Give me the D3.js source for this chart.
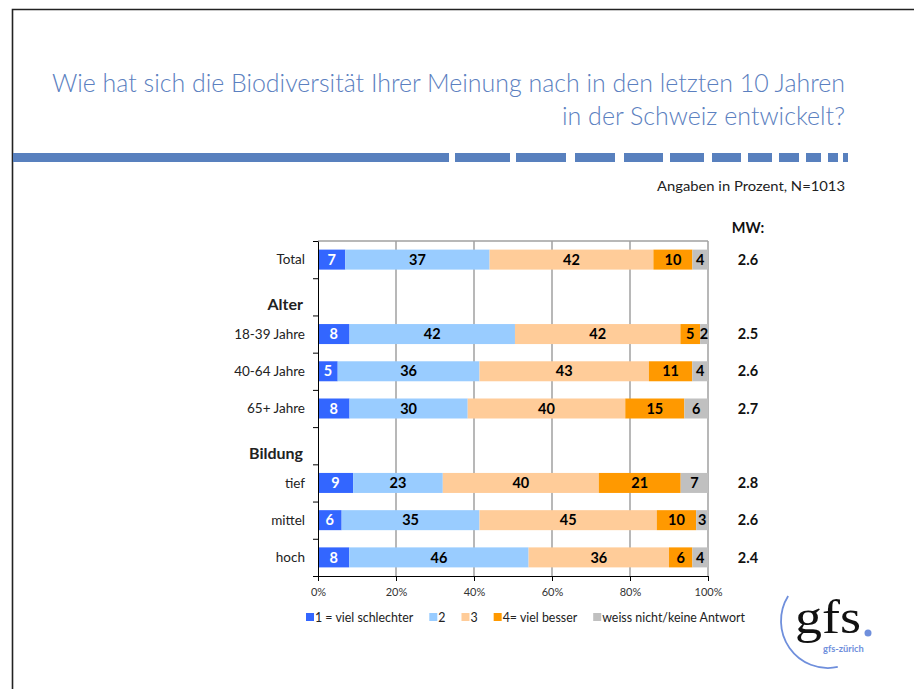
<!DOCTYPE html>
<html><head><meta charset="utf-8">
<script src="https://cdn.jsdelivr.net/npm/d3@7"></script>
<style>body{margin:0;background:#fff} svg{display:block}</style>
</head><body><svg id="c" width="914" height="689"></svg>
<script>
const categories = ["Total","Alter","18-39 Jahre","40-64 Jahre","65+ Jahre","Bildung","tief","mittel","hoch"];
const headerRows = ["Alter","Bildung"];
const seriesNames = ["1 = viel schlechter","2","3","4= viel besser","weiss nicht/keine Antwort"];
const viel_schlechter = [7,null,8,5,8,null,9,6,8];
const wert2 = [37,null,42,36,30,null,23,35,46];
const wert3 = [42,null,42,43,40,null,40,45,36];
const viel_besser = [10,null,5,11,15,null,21,10,6];
const weiss_nicht = [4,null,2,4,6,null,7,3,4];
const mw = [2.6,null,2.5,2.6,2.7,null,2.8,2.6,2.4];
const tickValues = [0,0.2,0.4,0.6,0.8,1];
const tickLabels = ["0%","20%","40%","60%","80%","100%"];
const colors = ["#3366FF","#99CCFF","#FFCC99","#FF9900","#C0C0C0"];
const labelColors = ["#ffffff","#000000","#000000","#000000","#000000"];

const FONT = "Lato, 'Open Sans', sans-serif";
const svg = d3.select("#c");
svg.append("rect").attr("width",914).attr("height",689).attr("fill","#fff");

// frame
svg.append("path").attr("d","M12.5,689 V9.5 H914").attr("fill","none").attr("stroke","#222").attr("stroke-width",1.6);

// title
const titleColor = "#5b80c0";
svg.append("text").attr("x",845).attr("y",92).attr("text-anchor","end")
  .attr("font-family",FONT).attr("font-weight",300).attr("font-size",24.5).attr("fill",titleColor)
  .attr("textLength",793).attr("lengthAdjust","spacingAndGlyphs")
  .text("Wie hat sich die Biodiversität Ihrer Meinung nach in den letzten 10 Jahren");
svg.append("text").attr("x",845).attr("y",125).attr("text-anchor","end")
  .attr("font-family",FONT).attr("font-weight",300).attr("font-size",24.5).attr("fill",titleColor)
  .attr("textLength",283).attr("lengthAdjust","spacingAndGlyphs")
  .text("in der Schweiz entwickelt?");

// decorative dashed rule
const dashes = [[13,449],[455,510],[516,566],[575,615],[624,663],[670,704],[712,741],[748,772],[779,799],[806,821],[828,838],[843,848]];
svg.append("g").selectAll("rect").data(dashes).join("rect")
  .attr("x",d=>d[0]).attr("width",d=>d[1]-d[0]).attr("y",153).attr("height",9).attr("fill","#5880be");

svg.append("text").attr("x",845).attr("y",191).attr("text-anchor","end")
  .attr("font-family",FONT).attr("font-size",14).attr("fill","#222")
  .attr("textLength",188).attr("lengthAdjust","spacingAndGlyphs")
  .text("Angaben in Prozent, N=1013");

// scales
const x = d3.scaleLinear().domain([0,1]).range([318,708]);
const y = d3.scaleBand().domain(categories).range([241,576]);
const yi = d3.scaleLinear().domain([0,categories.length]).range([241,576]);
const barH = 20;

// gridlines + plot border
const g = svg.append("g");
g.selectAll("line.grid").data(tickValues.slice(1)).join("line")
  .attr("x1",d=>x(d)).attr("x2",d=>x(d)).attr("y1",241).attr("y2",576)
  .attr("stroke","#a0a0a0").attr("stroke-width",1.5);
g.append("line").attr("x1",x(0)).attr("x2",x(1)).attr("y1",241).attr("y2",241)
  .attr("stroke","#a0a0a0").attr("stroke-width",1.5);

// data table
const keys = ["s0","s1","s2","s3","s4"];
const table = categories.map((c,i)=>({cat:c,s0:viel_schlechter[i],s1:wert2[i],s2:wert3[i],s3:viel_besser[i],s4:weiss_nicht[i]}))
  .filter(d=>d.s0!==null);
const stack = d3.stack().keys(keys).offset(d3.stackOffsetExpand)(table);

stack.forEach((layer,k)=>{
  const lg = svg.append("g");
  lg.selectAll("rect").data(layer).join("rect")
    .attr("x",d=>x(d[0])).attr("width",d=>x(d[1])-x(d[0]))
    .attr("y",d=>y(d.data.cat)+(y.bandwidth()-barH)/2).attr("height",barH)
    .attr("fill",colors[k]);
  lg.selectAll("text").data(layer).join("text")
    .attr("x",d=>(x(d[0])+x(d[1]))/2).attr("y",d=>y(d.data.cat)+y.bandwidth()/2)
    .attr("dy","0.36em").attr("text-anchor","middle")
    .attr("font-family",FONT).attr("font-weight",700).attr("font-size",14.5)
    .attr("fill",labelColors[k]).text(d=>d.data[keys[k]]);
});

// axes
const xa = svg.append("g").attr("transform","translate(0,576)")
  .call(d3.axisBottom(x).tickValues(tickValues).tickFormat((d,i)=>tickLabels[i]).tickSize(5).tickSizeOuter(0));
xa.select(".domain").attr("stroke","#000");
xa.selectAll(".tick line").attr("stroke","#000");
xa.selectAll("text").attr("font-family",FONT).attr("font-size",11).attr("fill","#333").attr("dy","1.05em");

const ya = svg.append("g").attr("transform","translate(318,0)")
  .call(d3.axisLeft(yi).ticks(categories.length).tickFormat("").tickSize(5).tickSizeOuter(0));
ya.select(".domain").attr("stroke","#000");
ya.selectAll(".tick line").attr("stroke","#000");

// category labels
svg.append("g").selectAll("text").data(categories).join("text")
  .attr("x",d=>headerRows.includes(d)?303:305)
  .attr("y",d=>y(d)+y.bandwidth()/2 + (headerRows.includes(d)?8:0))
  .attr("dy","0.35em").attr("text-anchor","end")
  .attr("font-family",FONT).attr("font-size",d=>headerRows.includes(d)?16:13.5)
  .attr("font-weight",d=>headerRows.includes(d)?700:400)
  .attr("fill","#222").text(d=>d);

// MW column
svg.append("text").attr("x",748).attr("y",233).attr("text-anchor","middle")
  .attr("font-family",FONT).attr("font-weight",700).attr("font-size",14.5).attr("fill","#111").text("MW:");
svg.append("g").selectAll("text").data(categories.map((c,i)=>({c,v:mw[i]})).filter(d=>d.v!==null)).join("text")
  .attr("x",748).attr("y",d=>y(d.c)+y.bandwidth()/2).attr("dy","0.36em").attr("text-anchor","middle")
  .attr("font-family",FONT).attr("font-weight",700).attr("font-size",14.5).attr("fill","#111")
  .text(d=>d3.format(".1f")(d.v));

// legend
let lx = 306;
const leg = svg.append("g");
seriesNames.forEach((n,i)=>{
  leg.append("rect").attr("x",lx).attr("y",613).attr("width",8).attr("height",8).attr("fill",colors[i]);
  const t = leg.append("text").attr("x",lx+9).attr("y",621.5)
    .attr("font-family",FONT).attr("font-size",12.4).attr("fill","#222").text(n);
  lx += 9 + t.node().getComputedTextLength() + 16;
});

// logo
const arcPath = d3.path();
arcPath.arc(828,621,47,212*Math.PI/180,78*Math.PI/180,true);
svg.append("path").attr("d",arcPath.toString()).attr("fill","none").attr("stroke","#6f8fdc").attr("stroke-width",1.8);
svg.append("text").attr("x",795).attr("y",633).attr("font-family","'Liberation Serif', 'DejaVu Serif', serif")
  .attr("font-size",48).attr("fill","#111")
  .attr("textLength",66).attr("lengthAdjust","spacingAndGlyphs").text("gfs");
svg.append("circle").attr("cx",868).attr("cy",633).attr("r",3.5).attr("fill","#6f8fdc");
svg.append("text").attr("x",823).attr("y",652).attr("font-family",FONT).attr("font-weight",700)
  .attr("font-size",9.3).attr("fill","#6f8fdc").text("gfs-zürich");
</script></body></html>
